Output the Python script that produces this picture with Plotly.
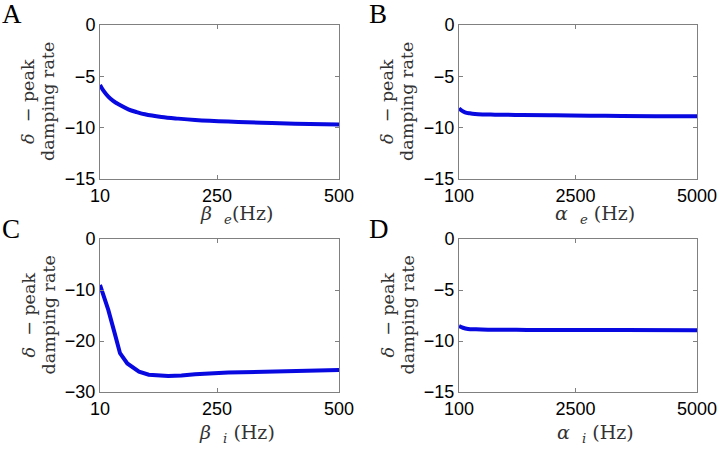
import plotly.graph_objects as go

# ---- data ----
beta_e_x = [10, 17, 27, 37, 48, 68, 85, 102, 136, 170, 205, 273, 341, 410, 500]
beta_e_y = [-5.84, -6.40, -6.98, -7.40, -7.73, -8.21, -8.48, -8.70, -8.96, -9.12, -9.25, -9.41, -9.51, -9.61, -9.70]

alpha_e_x = [100, 150, 224, 320, 430, 600, 841, 1400, 2076, 2800, 3450, 4200, 5000]
alpha_e_y = [-8.12, -8.32, -8.50, -8.60, -8.67, -8.71, -8.73, -8.77, -8.80, -8.83, -8.86, -8.88, -8.90]

beta_i_x = [10, 27, 41, 51, 66, 90, 110, 150, 177, 205, 273, 341, 410, 500]
beta_i_y = [-9.0, -13.9, -18.8, -22.4, -24.4, -26.0, -26.6, -26.85, -26.75, -26.5, -26.2, -26.0, -25.9, -25.7]

alpha_i_x = [100, 180, 285, 450, 697, 1500, 2500, 3500, 5000]
alpha_i_y = [-8.53, -8.70, -8.82, -8.86, -8.89, -8.91, -8.92, -8.93, -8.95]

x_ticks_beta = [10, 250, 500]
x_ticks_alpha = [100, 2500, 5000]
y_ticks_15 = [-15, -10, -5, 0]
y_ticks_30 = [-30, -20, -10, 0]

panels = [
    dict(letter="A", x=beta_e_x, y=beta_e_y, xr=[10, 500], xt=x_ticks_beta,
         yr=[-15, 0], yt=y_ticks_15, title="<i>β</i>  <sub><i>e</i></sub>(Hz)", shape="spline"),
    dict(letter="B", x=alpha_e_x, y=alpha_e_y, xr=[100, 5000], xt=x_ticks_alpha,
         yr=[-15, 0], yt=y_ticks_15, title="<i>α</i>  <sub><i>e</i></sub> (Hz)", shape="spline"),
    dict(letter="C", x=beta_i_x, y=beta_i_y, xr=[10, 500], xt=x_ticks_beta,
         yr=[-30, 0], yt=y_ticks_30, title="<i>β</i>  <sub><i>i</i></sub> (Hz)", shape="linear"),
    dict(letter="D", x=alpha_i_x, y=alpha_i_y, xr=[100, 5000], xt=x_ticks_alpha,
         yr=[-15, 0], yt=y_ticks_15, title="<i>α</i>  <sub><i>i</i></sub> (Hz)", shape="spline"),
]

W, H = 720, 451
# pixel boxes of plot areas (left, right, top, bottom)
boxes = [(100, 339, 25, 179), (459, 697, 25, 179), (100, 339, 239, 392), (459, 697, 239, 392)]
letter_pos = [(12, 14), (378, 14), (11, 229), (379, 229)]
xtitle_dy = [35, 35, 41, 41]

SERIF = "DejaVu Serif, serif"
LSERIF = "Liberation Serif, Times New Roman, serif"
SANS = "Liberation Sans, Arial, Helvetica, sans-serif"

fig = go.Figure()
layout = dict(width=W, height=H, margin=dict(l=0, r=0, t=0, b=0, autoexpand=False),
              paper_bgcolor="white", plot_bgcolor="white", showlegend=False)
annotations = []

for i, (p, box) in enumerate(zip(panels, boxes)):
    n = "" if i == 0 else str(i + 1)
    l, r, t, b = box
    fig.add_trace(go.Scatter(x=p["x"], y=p["y"], mode="lines",
                             line=dict(color="#0808e0", width=4, shape=p["shape"]),
                             xaxis="x" + n, yaxis="y" + n, hoverinfo="skip"))
    axcommon = dict(showgrid=False, zeroline=False, showline=True, linecolor="#808080", linewidth=1,
                    mirror="ticks", ticks="inside", ticklen=4, tickcolor="#808080", automargin=False,
                    tickfont=dict(family=SANS, size=18, color="black"))
    layout["xaxis" + n] = dict(axcommon, domain=[l / W, r / W], range=p["xr"], tickvals=p["xt"],
                               anchor="y" + n, ticklabelstandoff=0)
    layout["yaxis" + n] = dict(axcommon, domain=[1 - b / H, 1 - t / H], range=p["yr"], tickvals=p["yt"],
                               ticktext=[str(v).replace("-", "−") for v in p["yt"]],
                               anchor="x" + n, ticklabelstandoff=0)
    # panel letter
    lx, ly = letter_pos[i]
    annotations.append(dict(text=p["letter"], x=lx / W, y=1 - ly / H, xref="paper", yref="paper",
                            showarrow=False, font=dict(family=LSERIF, size=27, color="black"),
                            xanchor="center", yanchor="middle"))
    # y title (two lines, placed separately)
    yc = 1 - ((t + b) / 2) / H
    annotations.append(dict(text="<i>δ</i>  − peak", x=(l - 72) / W, y=yc,
                            xref="paper", yref="paper", showarrow=False, textangle=-90,
                            font=dict(family=SERIF, size=17.5, color="#333"),
                            xanchor="center", yanchor="middle"))
    annotations.append(dict(text="damping rate", x=(l - 52) / W, y=yc,
                            xref="paper", yref="paper", showarrow=False, textangle=-90,
                            font=dict(family=SERIF, size=17.5, color="#333"),
                            xanchor="center", yanchor="middle"))
    # x title
    annotations.append(dict(text=p["title"],
                            x=((l + r) / 2 + 17) / W, y=1 - (b + xtitle_dy[i]) / H,
                            xref="paper", yref="paper", showarrow=False,
                            font=dict(family=SERIF, size=19, color="#333"),
                            xanchor="center", yanchor="middle"))

layout["annotations"] = annotations
fig.update_layout(**layout)
fig.write_html("out.html", config={"displayModeBar": False},
               post_script="document.body.style.margin='0px';document.body.style.padding='0px';")
